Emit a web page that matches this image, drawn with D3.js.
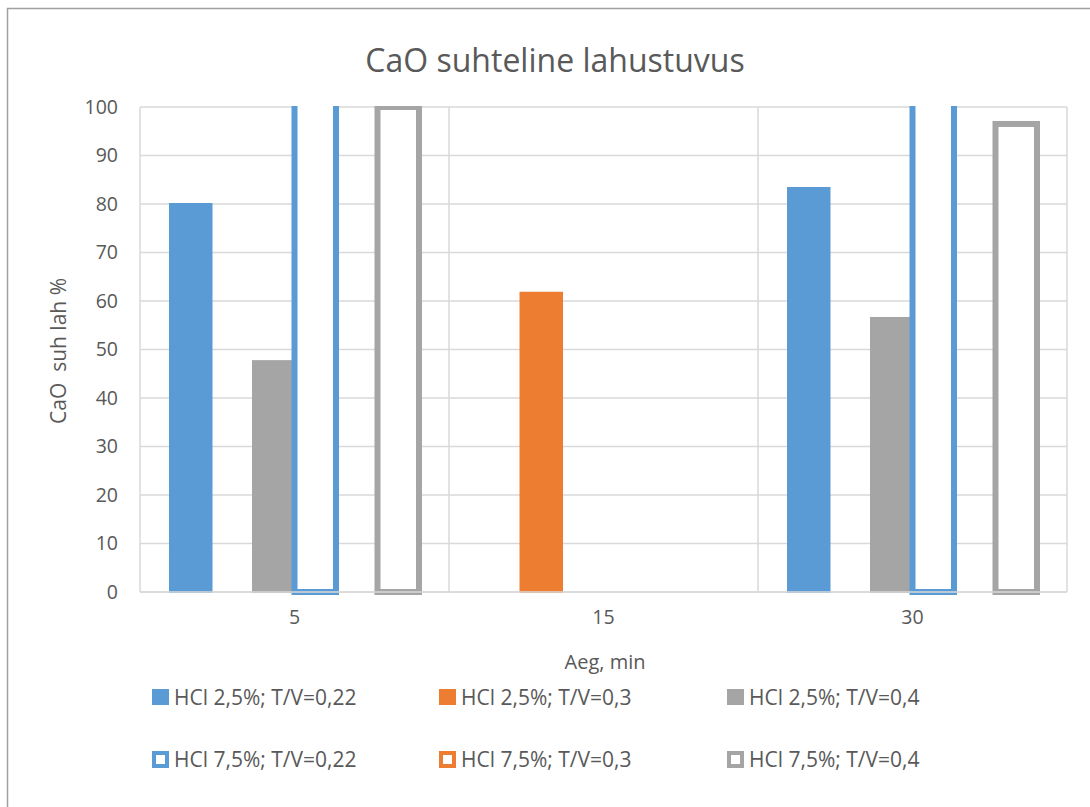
<!DOCTYPE html>
<html>
<head>
<meta charset="utf-8">
<script src="https://cdn.jsdelivr.net/npm/d3@7"></script>
<style>
    body { margin: 0; background: #fff; }
    svg { font-family: "Open Sans", sans-serif; }
</style>
</head>
<body>
<div class="chart"></div>
<script>
"use strict"

// chart data
const categories = ["5", "15", "30"]
const seriesNames = [
    "HCl 2,5%; T/V=0,22", "HCl 2,5%; T/V=0,3", "HCl 2,5%; T/V=0,4",
    "HCl 7,5%; T/V=0,22", "HCl 7,5%; T/V=0,3", "HCl 7,5%; T/V=0,4"
]
// null = no value for that time
const hcl25tv022 = [80.0, null, 83.3]
const hcl25tv03 = [null, 61.7, null]
const hcl25tv04 = [47.6, null, 56.5]
const hcl75tv022 = [120, null, 120]
const hcl75tv03 = [null, null, null]
const hcl75tv04 = [100, null, 96.5]
const yTicks = [0, 10, 20, 30, 40, 50, 60, 70, 80, 90, 100]

const seriesValues = [hcl25tv022, hcl25tv03, hcl25tv04, hcl75tv022, hcl75tv03, hcl75tv04]
const seriesColors = ["#5b9bd5", "#ed7d31", "#a5a5a5", "#5b9bd5", "#ed7d31", "#a5a5a5"]
const seriesHollow = [false, false, false, true, true, true]

const W = 1090, H = 807
const PLOT = { left: 140, right: 1067, top: 107, bottom: 592 }
const TEXT = "#595959", GRID = "#d9d9d9"

const svg = d3.select(".chart").append("svg").attr("width", W).attr("height", H)

// outer chart border
svg.append("rect").attr("x", 7.5).attr("y", 8.5).attr("width", W).attr("height", H)
    .attr("fill", "#fff").attr("stroke", "#a0a0a0").attr("stroke-width", 1.5)

// scales
const x = d3.scaleBand().domain(categories).range([PLOT.left, PLOT.right])
    .paddingInner(0).paddingOuter(0)
const xSub = d3.scaleBand().domain(d3.range(seriesNames.length))
    .range([30, x.bandwidth() - 30])
const y = d3.scaleLinear().domain([0, 100]).range([PLOT.bottom, PLOT.top])

// horizontal gridlines
svg.append("g").selectAll("line").data(yTicks).join("line")
    .attr("x1", PLOT.left).attr("x2", PLOT.right)
    .attr("y1", d => y(d)).attr("y2", d => y(d))
    .attr("stroke", GRID).attr("stroke-width", 1.5)

// vertical category gridlines
svg.append("g").selectAll("line").data(categories.concat(["end"])).join("line")
    .attr("x1", d => d === "end" ? PLOT.right : x(d))
    .attr("x2", d => d === "end" ? PLOT.right : x(d))
    .attr("y1", PLOT.top).attr("y2", PLOT.bottom)
    .attr("stroke", GRID).attr("stroke-width", 1.5)

// clip bars at top of plot area
svg.append("clipPath").attr("id", "plotclip").append("rect")
    .attr("x", PLOT.left - 5).attr("y", PLOT.top - 1)
    .attr("width", PLOT.right - PLOT.left + 10).attr("height", PLOT.bottom - PLOT.top + 12)

const barData = []
seriesValues.forEach((vals, si) => {
    vals.forEach((v, ci) => {
        if (v !== null) barData.push({ si: si, cat: categories[ci], value: v })
    })
})

const bars = svg.append("g").attr("clip-path", "url(#plotclip)")
bars.selectAll("rect").data(barData).join("rect")
    .attr("x", d => x(d.cat) + xSub(d.si))
    .attr("width", xSub.bandwidth())
    .attr("y", d => y(d.value))
    .attr("height", d => y(0) - y(d.value))
    .attr("fill", d => seriesHollow[d.si] ? "#fff" : seriesColors[d.si])
    .attr("stroke", d => seriesColors[d.si])
    .attr("stroke-width", d => seriesHollow[d.si] ? 6 : 2)

// x axis line
svg.append("line").attr("x1", PLOT.left).attr("x2", PLOT.right)
    .attr("y1", PLOT.bottom).attr("y2", PLOT.bottom)
    .attr("stroke", GRID).attr("stroke-width", 1.5)

// y axis tick labels
const yAxis = d3.axisLeft(y).tickValues(yTicks).tickSize(0).tickPadding(0)
svg.append("g").attr("transform", "translate(118,0)").call(yAxis)
    .call(g => g.select(".domain").remove())
    .selectAll("text").attr("fill", TEXT).style("font-size", "19.5px")
    .style("font-family", "'Open Sans', sans-serif")

// x axis category labels
const xAxis = d3.axisBottom(x).tickSize(0).tickPadding(0)
svg.append("g").attr("transform", "translate(0,610)").call(xAxis)
    .call(g => g.select(".domain").remove())
    .selectAll("text").attr("fill", TEXT).style("font-size", "19.5px")
    .style("font-family", "'Open Sans', sans-serif")

// title and axis titles
svg.append("text").attr("x", 555).attr("y", 72).attr("text-anchor", "middle")
    .attr("fill", TEXT).style("font-size", "32px").text("CaO suhteline lahustuvus")
svg.append("text").attr("x", 605).attr("y", 669).attr("text-anchor", "middle")
    .attr("fill", TEXT).style("font-size", "20px").text("Aeg, min")
svg.append("text").attr("transform", "translate(66,351) rotate(-90)")
    .attr("text-anchor", "middle").attr("fill", TEXT).style("font-size", "21px")
    .attr("xml:space", "preserve").style("white-space", "pre").text("CaO  suh lah %")

// legend
const legendCols = [152, 439, 727]
const legendRows = [697, 759]
const legend = svg.append("g").selectAll("g").data(seriesNames).join("g")
    .attr("transform", (d, i) => "translate(" + legendCols[i % 3] + "," + legendRows[Math.floor(i / 3)] + ")")
legend.append("rect")
    .attr("x", (d, i) => seriesHollow[i] ? 2 : 0)
    .attr("y", (d, i) => seriesHollow[i] ? -6 : -8)
    .attr("width", (d, i) => seriesHollow[i] ? 13 : 17)
    .attr("height", (d, i) => seriesHollow[i] ? 13 : 16)
    .attr("fill", (d, i) => seriesHollow[i] ? "#fff" : seriesColors[i])
    .attr("stroke", (d, i) => seriesHollow[i] ? seriesColors[i] : "none")
    .attr("stroke-width", (d, i) => seriesHollow[i] ? 4 : 0)
legend.append("text").attr("x", 22).attr("y", 7.5)
    .attr("fill", TEXT).style("font-size", "21px").text(d => d)
</script>
</body>
</html>
